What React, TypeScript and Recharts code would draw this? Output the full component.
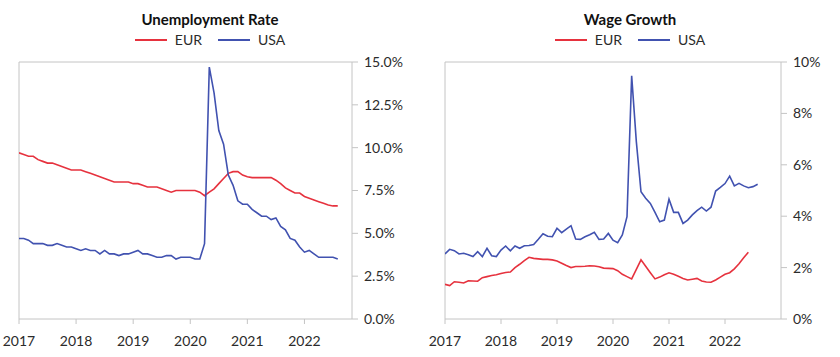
import React from 'react';
import { LineChart, Line, XAxis, YAxis, ReferenceLine } from 'recharts';

// Monthly observations, first point = Dec 2016 (plotted at month end)
const START = 2017;
const yearTicks = [2017, 2018, 2019, 2020, 2021, 2022];

const unempUSA = [
  4.7,
  4.7, 4.6, 4.4, 4.4, 4.4, 4.3, 4.3, 4.4, 4.3, 4.2, 4.2, 4.1,
  4.0, 4.1, 4.0, 4.0, 3.8, 4.0, 3.8, 3.8, 3.7, 3.8, 3.8, 3.9,
  4.0, 3.8, 3.8, 3.7, 3.6, 3.6, 3.7, 3.7, 3.5, 3.6, 3.6, 3.6,
  3.5, 3.5, 4.4, 14.7, 13.2, 11.0, 10.2, 8.4, 7.8, 6.9, 6.7, 6.7,
  6.4, 6.2, 6.0, 6.0, 5.8, 5.9, 5.4, 5.2, 4.7, 4.6, 4.2, 3.9,
  4.0, 3.8, 3.6, 3.6, 3.6, 3.6, 3.5,
];

const unempEUR = [
  9.7,
  9.6, 9.5, 9.5, 9.3, 9.2, 9.1, 9.1, 9.0, 8.9, 8.8, 8.7, 8.7,
  8.7, 8.6, 8.5, 8.4, 8.3, 8.2, 8.1, 8.0, 8.0, 8.0, 8.0, 7.9,
  7.9, 7.8, 7.7, 7.7, 7.7, 7.6, 7.5, 7.4, 7.5, 7.5, 7.5, 7.5,
  7.5, 7.4, 7.2, 7.4, 7.6, 7.9, 8.2, 8.5, 8.6, 8.6, 8.4, 8.3,
  8.25, 8.25, 8.25, 8.25, 8.25, 8.1, 7.9, 7.65, 7.5, 7.35, 7.35, 7.15,
  7.05, 6.95, 6.85, 6.75, 6.65, 6.6, 6.6,
];

const wageUSA = [
  2.53,
  2.71, 2.66, 2.53, 2.56, 2.5, 2.43, 2.62, 2.43, 2.75, 2.46, 2.43, 2.68,
  2.84, 2.65, 2.84, 2.75, 2.85, 2.86, 2.9, 3.1, 3.32, 3.22, 3.2, 3.53,
  3.36, 3.5, 3.63, 3.11, 3.1, 3.2, 3.28, 3.37, 3.1, 3.11, 3.33, 3.07,
  2.97, 3.27, 3.98, 9.46, 6.9, 4.95, 4.7, 4.5, 4.15, 3.78, 3.85, 4.66,
  4.15, 4.15, 3.72, 3.85, 4.05, 4.22, 4.35, 4.2, 4.35, 4.98, 5.12, 5.27,
  5.56, 5.18, 5.28, 5.18, 5.11, 5.15, 5.24,
];

const wageEUR = [
  1.35,
  1.3, 1.45, 1.43, 1.4, 1.49, 1.48, 1.47, 1.61, 1.65, 1.69, 1.72, 1.77,
  1.81, 1.83, 2.0, 2.13, 2.27, 2.4, 2.36, 2.34, 2.32, 2.32, 2.3, 2.26,
  2.17, 2.08, 2.0, 2.04, 2.04, 2.05, 2.07, 2.06, 2.03, 1.98, 1.97, 1.96,
  1.88, 1.74, 1.65, 1.56, 1.93, 2.3, 2.05, 1.8, 1.56, 1.63, 1.72, 1.8,
  1.74, 1.66, 1.58, 1.52, 1.55, 1.58, 1.48, 1.44, 1.43, 1.52, 1.63, 1.74,
  1.8, 1.95, 2.15, 2.38, 2.6,
];

const unempTicks = [0, 2.5, 5, 7.5, 10, 12.5, 15];
const wageTicks = [0, 2, 4, 6, 8, 10];

function buildRows(eur: number[], usa: number[]) {
  const n = Math.max(eur.length, usa.length);
  const rows = [];
  for (let i = 0; i < n; i++) {
    rows.push({
      t: START + i / 12,
      EUR: i < eur.length ? eur[i] : null,
      USA: i < usa.length ? usa[i] : null,
    });
  }
  return rows;
}

const RED = '#e6323e';
const BLUE = '#4152b0';
const GRID = '#c4c4c4';
const TEXT = '#2b2b2b';
const FONT = 'Lato, "Open Sans", sans-serif';

const tickStyle = { fill: TEXT, fontSize: 14, fontFamily: FONT };

function Header({ title }: { title: string }) {
  const item = (color: string, label: string) => (
    <div style={{ display: 'flex', alignItems: 'center', margin: '0 8px' }}>
      <div style={{ width: 32, height: 2, background: color, marginRight: 8 }} />
      <span style={{ fontSize: 14, color: TEXT }}>{label}</span>
    </div>
  );
  return (
    <div style={{ position: 'absolute', left: 0, top: 0, width: 420, fontFamily: FONT, pointerEvents: 'none' }}>
      <div style={{ position: 'absolute', top: 10, width: 420, textAlign: 'center', fontWeight: 700, fontSize: 15, color: '#111' }}>
        {title}
      </div>
      <div style={{ position: 'absolute', top: 31, width: 420, display: 'flex', justifyContent: 'center' }}>
        {item(RED, 'EUR')}
        {item(BLUE, 'USA')}
      </div>
    </div>
  );
}

function Panel({
  title, rows, domainMax, yTicks, yFmt, marginLeft, yWidth,
}: {
  title: string; rows: any[]; domainMax: number; yTicks: number[]; yFmt: (v: number) => string; marginLeft: number; yWidth: number;
}) {
  const yMax = yTicks[yTicks.length - 1];
  return (
    <div style={{ position: 'relative', width: 420, height: 357 }}>
      <LineChart width={420} height={357} data={rows} margin={{ top: 62, right: 0, bottom: 8, left: marginLeft }}>
        <XAxis
          dataKey="t" type="number" domain={[START, domainMax]} ticks={yearTicks} allowDataOverflow
          tickFormatter={(v: number) => String(Math.round(v))}
          stroke={GRID} tick={tickStyle} tickSize={5} tickMargin={12} height={30}
        />
        <YAxis
          orientation="right" type="number" domain={[0, yMax]} ticks={yTicks}
          tickFormatter={yFmt} stroke={GRID} tick={tickStyle} tickSize={6} tickMargin={6} width={yWidth}
          interval={0}
        />
        <ReferenceLine x={START} stroke={GRID} strokeWidth={1} ifOverflow="visible" />
        <ReferenceLine y={yMax} stroke={GRID} strokeWidth={1} ifOverflow="visible" />
        <Line type="linear" dataKey="EUR" stroke={RED} strokeWidth={1.6} dot={false} isAnimationActive={false} connectNulls={false} />
        <Line type="linear" dataKey="USA" stroke={BLUE} strokeWidth={1.6} dot={false} isAnimationActive={false} connectNulls={false} />
      </LineChart>
      <Header title={title} />
    </div>
  );
}

export default function App() {
  return (
    <div style={{ position: 'absolute', left: 0, top: 0, width: 840, height: 357, background: '#fff', display: 'flex' }}>
      <Panel
        title="Unemployment Rate" rows={buildRows(unempEUR, unempUSA)} domainMax={2022.833}
        yTicks={unempTicks} yFmt={(v) => v.toFixed(1) + '%'} marginLeft={19} yWidth={68}
      />
      <Panel
        title="Wage Growth" rows={buildRows(wageEUR, wageUSA)} domainMax={2023}
        yTicks={wageTicks} yFmt={(v) => v + '%'} marginLeft={25} yWidth={59}
      />
    </div>
  );
}
